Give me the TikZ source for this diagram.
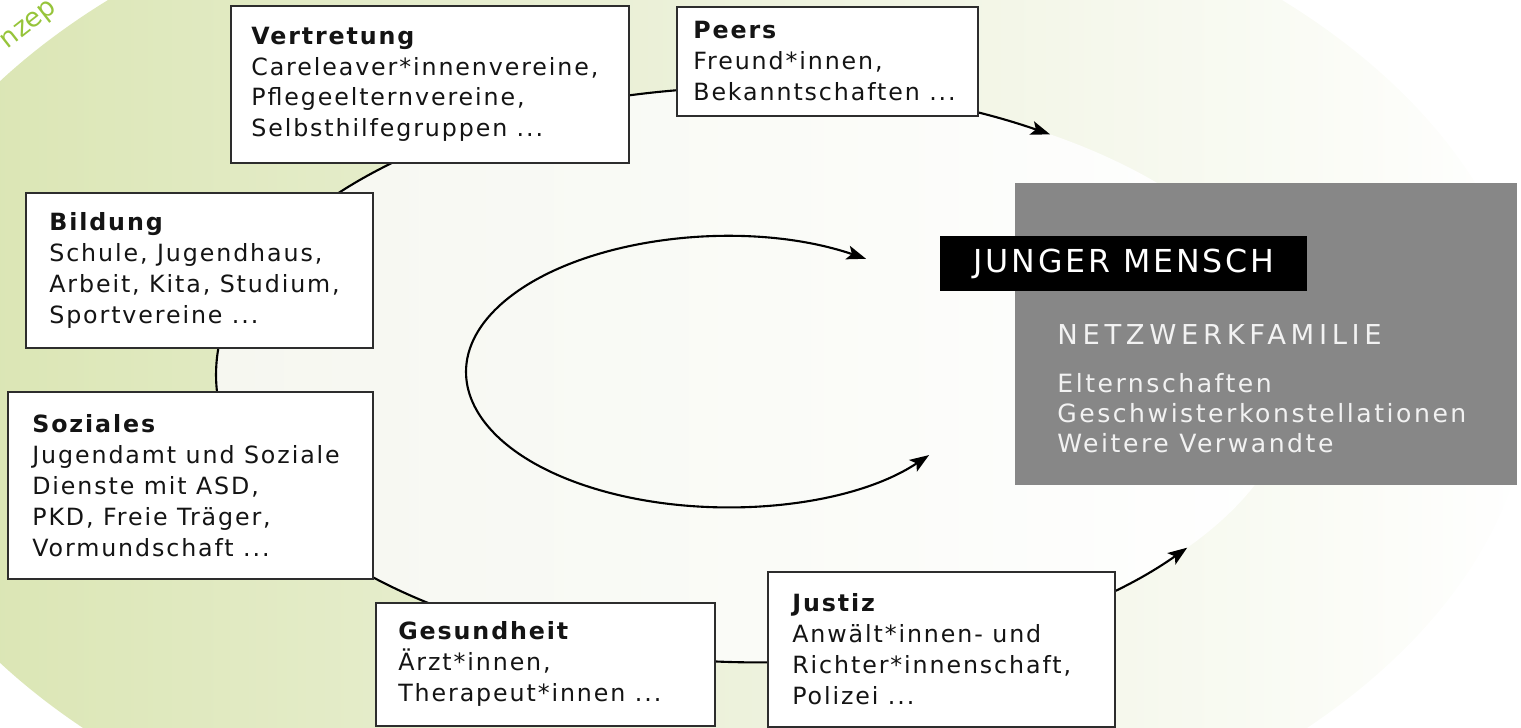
\documentclass[tikz,border=0pt]{standalone}
\usepackage{fontspec}
\setmainfont{DejaVu Sans}
\newfontfamily\boxfont[LetterSpace=8]{DejaVu Sans}
\newfontfamily\headfont[LetterSpace=9]{DejaVu Sans}
\newfontfamily\famfont[LetterSpace=17]{DejaVu Sans}
\newfontfamily\listfont[LetterSpace=10]{DejaVu Sans}
\usetikzlibrary{arrows.meta,calc,positioning}
\definecolor{GreenClr}{RGB}{216,228,174}
\definecolor{GreenMidClr}{RGB}{236,241,218}
\definecolor{PaleClr}{RGB}{246,247,240}
\definecolor{PaleMidClr}{RGB}{250,251,247}
\definecolor{LineClr}{RGB}{45,45,45}
\definecolor{TextClr}{RGB}{20,20,20}
\definecolor{FamilyClr}{RGB}{135,135,135}
\definecolor{FamTextClr}{RGB}{242,242,242}
\definecolor{WordClr}{RGB}{150,196,58}

\tikzset{
  netbox/.style={draw=LineClr, fill=white, line width=1pt, anchor=north west, inner sep=0pt},
  boxtext/.style={align=left, inner sep=0pt, text=TextClr, font=\boxfont\fontsize{13.5}{17.6}\selectfont},
  ringline/.style={line width=1.2pt, black, <->, >={Stealth[length=11pt,width=8pt,inset=2.5pt]}}
}

\begin{document}
\begin{tikzpicture}[x=0.02cm,y=0.02cm]
\useasboundingbox (0,0) rectangle (1521,727);

% background
\shade[left color=GreenClr, right color=white, middle color=GreenMidClr] (695,355) ellipse [x radius=16.74cm, y radius=10.44cm];
\node[rotate=38, inner sep=0pt, text=WordClr, font=\fontsize{15}{18}\selectfont] (konzept) at (30,701) {nzep};

\coordinate (ringc) at (756,352);
\coordinate (loopc) at (725,355);
\shade[left color=PaleClr, right color=white, middle color=PaleMidClr] (ringc) ellipse [x radius=10.8cm, y radius=5.74cm];

\coordinate (ringstart) at ($(ringc)+(57:10.8cm and 5.74cm)$);
\coordinate (loopstart) at ($(loopc)+(57:5.18cm and 2.7cm)$);
\draw[ringline] (ringstart) arc[start angle=57, end angle=323, x radius=10.8cm, y radius=5.74cm];
\draw[ringline] (loopstart) arc[start angle=57, end angle=322, x radius=5.18cm, y radius=2.7cm];

% boxes
\node[netbox, minimum width=7.96cm, minimum height=3.14cm] (vertretung) at (230,722) {};
\node[netbox, minimum width=6.02cm, minimum height=2.18cm] (peers) at (676,721) {};
\node[netbox, minimum width=6.94cm, minimum height=3.1cm] (bildung) at (25,535) {};
\node[netbox, minimum width=7.3cm, minimum height=3.74cm] (soziales) at (7,336) {};
\node[netbox, minimum width=6.78cm, minimum height=2.46cm] (gesundheit) at (375,125) {};
\node[netbox, minimum width=6.94cm, minimum height=3.1cm] (justiz) at (767,156) {};

\node[boxtext, right=0.42cm of vertretung.west] (vertretung-txt) {\textbf{Vertretung}\\Careleaver*innenvereine,\\Pflegeelternvereine,\\Selbsthilfegruppen ...};
\node[boxtext, right=0.34cm of peers.west] (peers-txt) {\textbf{Peers}\\Freund*innen,\\Bekanntschaften ...};
\node[boxtext, right=0.48cm of bildung.west] (bildung-txt) {\textbf{Bildung}\\Schule, Jugendhaus,\\Arbeit, Kita, Studium,\\Sportvereine ...};
\node[boxtext, right=0.5cm of soziales.west] (soziales-txt) {\textbf{Soziales}\\Jugendamt und Soziale\\Dienste mit ASD,\\PKD, Freie Träger,\\Vormundschaft ...};
\node[boxtext, right=0.46cm of gesundheit.west] (gesundheit-txt) {\textbf{Gesundheit}\\Ärzt*innen,\\Therapeut*innen ...};
\node[boxtext, right=0.5cm of justiz.west] (justiz-txt) {\textbf{Justiz}\\Anwält*innen- und\\Richter*innenschaft,\\Polizei ...};

% family
\node[fill=FamilyClr, minimum width=10.04cm, minimum height=6.04cm, anchor=north west, inner sep=0pt] (family) at (1015,544) {};
\node[fill=black, text=white, minimum width=7.34cm, minimum height=1.1cm, anchor=north west, inner sep=0pt,
  font=\headfont\fontsize{18}{20}\selectfont] (mensch) at (940,491) {JUNGER MENSCH};
\node[anchor=base west, inner sep=0pt, text=FamTextClr, font=\famfont\fontsize{15.6}{18}\selectfont] (netzwerk) at (1057,382) {NETZWERKFAMILIE};
\node[anchor=north west, align=left, inner sep=0pt, text=FamTextClr, font=\listfont\fontsize{14.3}{17.07}\selectfont] (verwandte) at (1057,354) {Elternschaften\\Geschwisterkonstellationen\\Weitere Verwandte};

\end{tikzpicture}
\end{document}
